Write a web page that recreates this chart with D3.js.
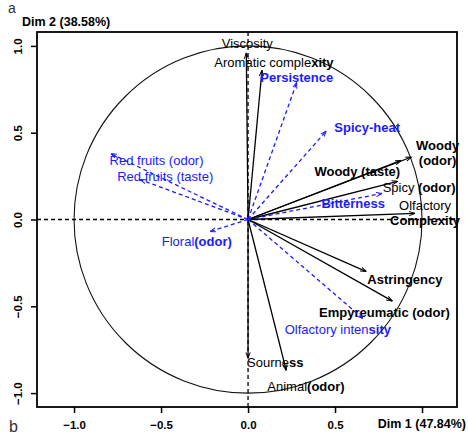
<!DOCTYPE html>
<html>
  <head>
    <meta charset="utf-8">
    <title>PCA correlation circle</title>
    <script src="https://cdn.jsdelivr.net/npm/d3@7"></script>
    <style type="text/css">
      body { margin: 0; background: #fff; }
      text { font-family: "Liberation Sans", Arial, sans-serif; }
    </style>
  </head>
  <body>
    <script>
    //Width and height
    var svgWidth = 468;
    var svgHeight = 435;

    //Active variables (black, solid arrows)
    var activeNames = ["Viscosity", "Aromatic complexity", "Woody (taste)", "Woody (odor)",
      "Spicy (odor)", "Olfactory Complexity", "Astringency", "Empyreumatic (odor)",
      "Sourness", "Animal (odor)"];
    var activeDim1 = [-0.01, 0.08, 0.88, 0.94, 0.86, 0.96, 0.68, 0.83, 0.00, 0.22];
    var activeDim2 = [0.96, 0.86, 0.34, 0.36, 0.22, 0.035, -0.30, -0.47, -0.80, -0.87];

    //Supplementary variables (blue, dashed arrows)
    var suppNames = ["Persistence", "Spicy-heat", "Bitterness", "Red fruits (odor)",
      "Red fruits (taste)", "Floral (odor)", "Olfactory intensity"];
    var suppDim1 = [0.28, 0.45, 0.77, -0.79, -0.62, -0.22, 0.66];
    var suppDim2 = [0.79, 0.51, 0.15, 0.38, 0.23, -0.07, -0.57];

    var tickValues = [-1.0, -0.5, 0.0, 0.5, 1.0];
    var xTitle = "Dim 1 (47.84%)";
    var yTitle = "Dim 2 (38.58%)";

    //label placement: pixel offset from arrow tip, anchor, text parts [text, bold]
    var labelLayout = {
      "Viscosity": {dx: 1, dy: -5, a: "middle", lines: [[["Viscosity", 0]]]},
      "Aromatic complexity": {dx: 12, dy: -3, a: "middle", lines: [[["Aromatic comple", 0], ["xity", 1]]]},
      "Woody (taste)": {dx: -1, dy: 16, a: "end", lines: [[["Woody (taste)", 1]]]},
      "Woody (odor)": {dx: 26, dy: -7, a: "middle", lines: [[["Woody", 1]], [["(odor)", 1]]]},
      "Spicy (odor)": {dx: -15, dy: 11, a: "start", lines: [[["Spicy ", 0], ["(odor)", 1]]]},
      "Olfactory Complexity": {dx: 10, dy: -3, a: "middle", lines: [[["Olfactory", 0]], [["Complexity", 1]]]},
      "Astringency": {dx: 1, dy: 12, a: "start", lines: [[["Astringency", 1]]]},
      "Empyreumatic (odor)": {dx: -8, dy: 16, a: "middle", lines: [[["Empyreumatic (odor)", 1]]]},
      "Sourness": {dx: -1, dy: 9, a: "start", lines: [[["Sourne", 0], ["ss", 1]]]},
      "Animal (odor)": {dx: -19, dy: 20, a: "start", lines: [[["Animal", 0], ["(odor)", 1]]]},
      "Persistence": {dx: 0, dy: 0, a: "middle", lines: [[["Persistence", 1]]]},
      "Spicy-heat": {dx: 8, dy: 1, a: "start", lines: [[["Spicy-heat", 1]]]},
      "Bitterness": {dx: 3, dy: 15, a: "end", lines: [[["Bitterness", 1]]]},
      "Red fruits (odor)": {dx: -1, dy: 11, a: "start", lines: [[["Red fruits (odor)", 0]]]},
      "Red fruits (taste)": {dx: -23, dy: 1, a: "start", lines: [[["Red fruits (taste)", 0]]]},
      "Floral (odor)": {dx: -48, dy: 14, a: "start", lines: [[["Floral", 0], ["(odor)", 1]]]},
      "Olfactory intensity": {dx: -25, dy: 16, a: "middle", lines: [[["Olfactory inten", 0], ["sity", 1]]]}
    };

    var blue = "#1a1aff";

    //Scales
    var xScale = d3.scaleLinear().domain([-1.213, 1.201]).range([37, 457]);
    var yScale = d3.scaleLinear().domain([-1.08, 1.08]).range([407, 32]);

    var svg = d3.select("body")
      .append("svg")
        .attr("width", svgWidth)
        .attr("height", svgHeight);

    //arrow heads
    var defs = svg.append("defs");
    [["headBlack", "#000"], ["headBlue", blue]].forEach(function(m) {
      defs.append("marker")
        .attr("id", m[0])
        .attr("viewBox", "0 0 10 10")
        .attr("refX", 10).attr("refY", 5)
        .attr("markerWidth", 6).attr("markerHeight", 6)
        .attr("markerUnits", "userSpaceOnUse")
        .attr("orient", "auto")
        .append("path")
          .attr("d", "M0,1.5 L10,5 L0,8.5")
          .attr("fill", "none")
          .attr("stroke", m[1])
          .attr("stroke-width", 1.6);
    });

    //unit circle
    svg.append("ellipse")
      .attr("cx", xScale(0)).attr("cy", yScale(0))
      .attr("rx", xScale(1) - xScale(0))
      .attr("ry", yScale(0) - yScale(1))
      .attr("fill", "none")
      .attr("stroke", "#111")
      .attr("stroke-width", 1.1);

    //dashed zero lines
    svg.append("line")
      .attr("x1", xScale.range()[0]).attr("x2", xScale.range()[1])
      .attr("y1", yScale(0)).attr("y2", yScale(0))
      .attr("stroke", "#000").attr("stroke-width", 1.3).attr("stroke-dasharray", "4,3");
    svg.append("line")
      .attr("x1", xScale(0)).attr("x2", xScale(0))
      .attr("y1", yScale.range()[0]).attr("y2", yScale.range()[1])
      .attr("stroke", "#000").attr("stroke-width", 1.3).attr("stroke-dasharray", "4,3");

    function drawArrows(names, d1, d2, color, dashed, marker) {
      var data = names.map(function(n, i) { return {name: n, x: d1[i], y: d2[i]}; });
      svg.append("g").selectAll("line")
        .data(data)
        .enter()
        .append("line")
        .attr("x1", xScale(0)).attr("y1", yScale(0))
        .attr("x2", function(d) { return xScale(d.x); })
        .attr("y2", function(d) { return yScale(d.y); })
        .attr("stroke", color)
        .attr("stroke-width", 1.3)
        .attr("stroke-dasharray", dashed ? "4,3" : null)
        .attr("marker-end", "url(#" + marker + ")");

      data.forEach(function(d) {
        var L = labelLayout[d.name];
        var t = svg.append("text")
          .attr("x", xScale(d.x) + L.dx)
          .attr("y", yScale(d.y) + L.dy)
          .attr("text-anchor", L.a)
          .attr("font-size", "13px")
          .attr("fill", color);
        L.lines.forEach(function(parts, li) {
          parts.forEach(function(p, pi) {
            var s = t.append("tspan").text(p[0])
              .attr("font-weight", p[1] ? "bold" : "normal");
            if (pi === 0) {
              s.attr("x", xScale(d.x) + L.dx).attr("dy", li === 0 ? 0 : 15);
            }
          });
        });
      });
    }

    drawArrows(activeNames, activeDim1, activeDim2, "#000", false, "headBlack");
    drawArrows(suppNames, suppDim1, suppDim2, blue, true, "headBlue");

    //box
    svg.append("rect")
      .attr("x", 37).attr("y", 32)
      .attr("width", 420).attr("height", 375)
      .attr("fill", "none")
      .attr("stroke", "#000")
      .attr("stroke-width", 1.8);

    //axes (the 1.0 label on the x axis sits under the axis title, so it is left blank)
    var xAxis = svg.append("g")
      .attr("transform", "translate(0,407)")
      .call(d3.axisBottom(xScale).tickValues(tickValues)
        .tickFormat(function(d) { return d === 1 ? "" : d3.format(".1f")(d); })
        .tickSize(6).tickPadding(8));
    var yAxis = svg.append("g")
      .attr("transform", "translate(37,0)")
      .call(d3.axisLeft(yScale).tickValues(tickValues).tickFormat(d3.format(".1f")).tickSize(6));
    [xAxis, yAxis].forEach(function(g) {
      g.select(".domain").remove();
      g.selectAll(".tick line").attr("stroke", "#000").attr("stroke-width", 1.5);
      g.selectAll("text")
        .attr("font-family", "'Liberation Sans', Arial, sans-serif")
        .attr("font-size", "11.5px")
        .attr("font-weight", "bold")
        .attr("fill", "#000");
    });
    yAxis.selectAll(".tick text")
      .attr("x", null).attr("dy", null)
      .attr("text-anchor", "middle")
      .attr("transform", "translate(-15,0) rotate(-90)");

    //titles
    svg.append("text")
      .attr("x", 22).attr("y", 26)
      .attr("font-size", "12.5px").attr("font-weight", "bold")
      .text(yTitle);
    svg.append("text")
      .attr("x", 466).attr("y", 428)
      .attr("text-anchor", "end")
      .attr("font-size", "12.5px").attr("font-weight", "bold")
      .text(xTitle);

    //panel letters
    svg.append("text")
      .attr("x", 8).attr("y", 13)
      .attr("font-size", "14px").attr("fill", "#333")
      .text("a");
    svg.append("text")
      .attr("x", 9).attr("y", 432)
      .attr("font-size", "16px").attr("fill", "#333")
      .text("b");
    </script>
  </body>
</html>
